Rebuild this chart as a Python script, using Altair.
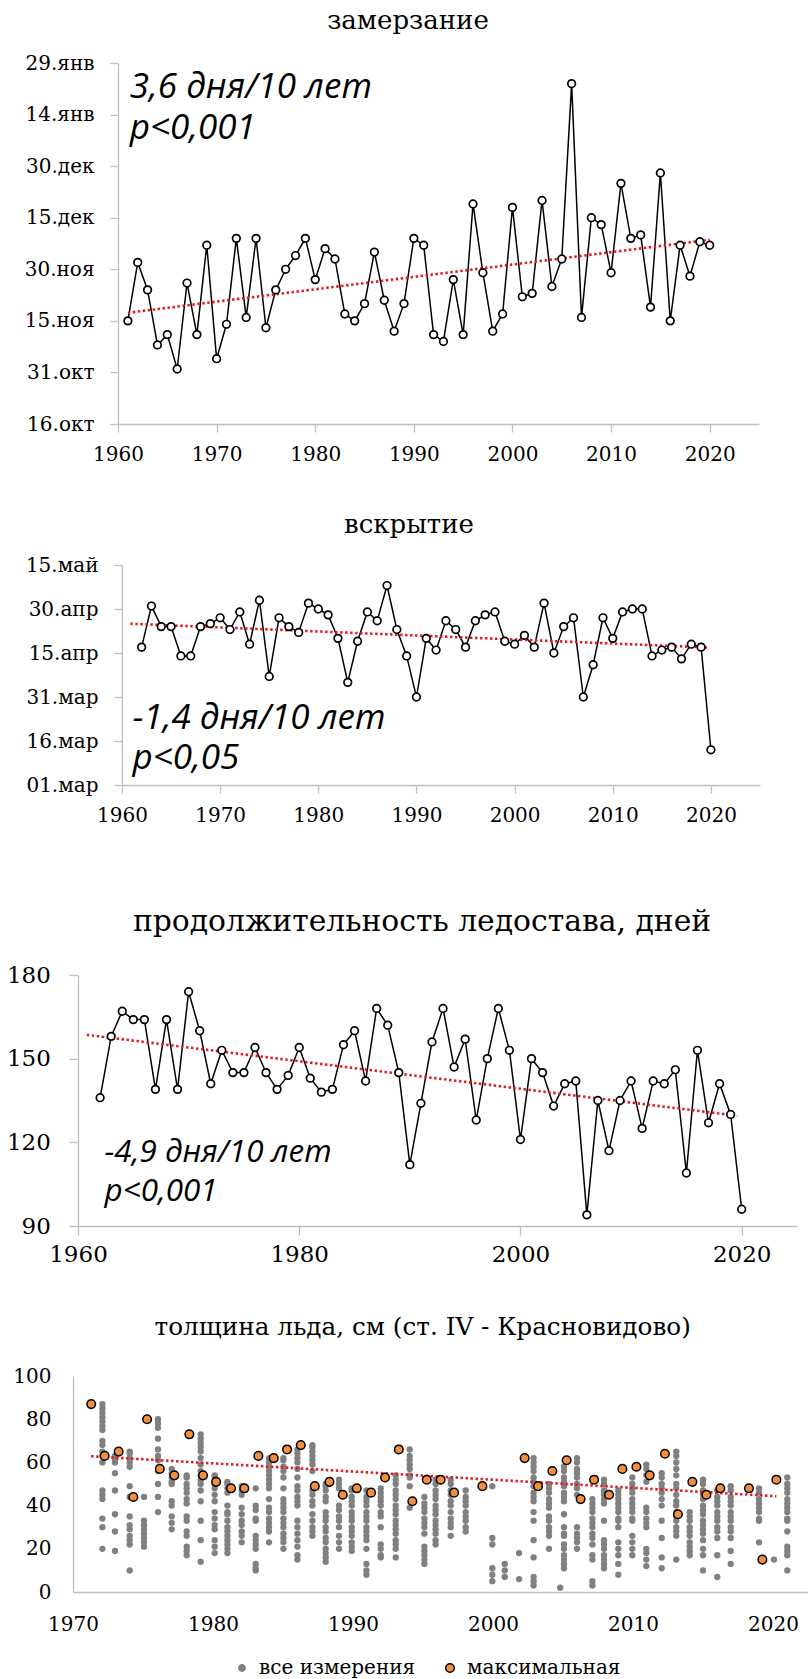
import altair as alt
import pandas as pd
from datetime import date

SERIF = "DejaVu Serif"
NOTE_FONT = "Open Sans"
AXIS_GREY = "#BFBFBF"
TREND_RED = "#E3191C"
DOT_GREY = "#808080"
MAX_ORANGE = "#F28E3F"

# ---------------- замерзание (дата установления ледостава) ----------------
freeze_years = list(range(1961, 2021))
freeze_dates = [
    "15.11", "02.12", "24.11", "08.11", "11.11", "01.11", "26.11", "11.11", "07.12", "04.11",
    "14.11", "09.12", "16.11", "09.12", "13.11", "24.11", "30.11", "04.12", "09.12", "27.11",
    "06.12", "03.12", "17.11", "15.11", "20.11", "05.12", "21.11", "12.11", "20.11", "09.12",
    "07.12", "11.11", "09.11", "27.11", "11.11", "19.12", "29.11", "12.11", "17.11", "18.12",
    "22.11", "23.11", "20.12", "25.11", "03.12", "23.01", "16.11", "15.12", "13.12", "29.11",
    "25.12", "09.12", "10.12", "19.11", "28.12", "15.11", "07.12", "28.11", "08.12", "07.12",
]
freeze_ticks = ["16.окт", "31.окт", "15.ноя", "30.ноя", "15.дек", "30.дек", "14.янв", "29.янв"]
freeze_note = "3,6 дня/10 лет\np<0,001"

# ---------------- вскрытие ----------------
breakup_years = list(range(1962, 2021))
breakup_dates = [
    "17.04", "01.05", "24.04", "24.04", "14.04", "14.04", "24.04", "25.04", "27.04", "23.04",
    "29.04", "18.04", "03.05", "07.04", "27.04", "24.04", "22.04", "02.05", "30.04", "28.04",
    "20.04", "05.04", "19.04", "29.04", "26.04", "08.05", "23.04", "14.04", "31.03", "20.04",
    "16.04", "26.04", "23.04", "17.04", "26.04", "28.04", "29.04", "19.04", "18.04", "21.04",
    "17.04", "02.05", "15.04", "24.04", "27.04", "31.03", "11.04", "27.04", "20.04", "29.04",
    "30.04", "30.04", "14.04", "16.04", "17.04", "13.04", "18.04", "17.04", "13.03",
]
breakup_ticks = ["01.мар", "16.мар", "31.мар", "15.апр", "30.апр", "15.май"]
breakup_note = "-1,4 дня/10 лет\np<0,05"

# ---------------- продолжительность ледостава ----------------
duration_years = list(range(1962, 2021))
duration_days = [
    136, 158, 167, 164, 164, 139, 164, 139, 174, 160,
    141, 153, 145, 145, 154, 145, 139, 144, 154, 143,
    138, 139, 155, 160, 142, 168, 162, 145, 112, 134,
    156, 168, 147, 157, 128, 150, 168, 153, 121, 150,
    145, 133, 141, 142, 94, 135, 117, 135, 142, 125,
    142, 141, 146, 109, 153, 127, 141, 130, 96,
]
duration_note = "-4,9 дня/10 лет\np<0,001"

# ---------------- толщина льда ----------------
max_x = [1971.3, 1972.26, 1973.26, 1974.31, 1975.29, 1976.2, 1977.24, 1978.31, 1979.29, 1980.22,
         1981.29, 1982.24, 1983.24, 1984.34, 1985.29, 1986.27, 1987.27, 1988.32, 1989.27, 1990.27,
         1991.29, 1992.29, 1993.27, 1994.24, 1995.27, 1996.26, 1997.22, 1999.24, 2002.26, 2003.22,
         2004.24, 2005.26, 2006.26, 2007.22, 2008.29, 2009.24, 2010.24, 2011.19, 2012.28, 2013.21,
         2014.24, 2015.24, 2016.24, 2018.28, 2019.24, 2020.24]
max_cm = [87, 63, 65, 44, 80, 57, 54, 73, 54, 51,
          48, 48, 63, 62, 66, 68, 49, 51, 45, 48,
          46, 53, 66, 42, 52, 52, 46, 49, 62, 49,
          56, 61, 43, 52, 45, 57, 58, 54, 64, 36,
          51, 45, 48, 48, 15, 52]

all_x = [1972.1, 1973.0, 1974.05, 1975.07, 1976.07, 1977.05, 1978.12, 1979.12, 1980.12, 1981.03,
         1982.05, 1983.05, 1984.0, 1985.03, 1986.03, 1987.1, 1988.05, 1989.0, 1989.91, 1990.96,
         1991.98, 1993.05, 1994.05, 1995.1, 1995.9, 1996.98, 1998.05, 1999.95, 2000.84, 2001.86,
         2002.9, 2004.0, 2004.8, 2005.07, 2006.0, 2007.1, 2007.93, 2008.95, 2009.95, 2010.95,
         2012.05, 2013.09, 2014.05, 2015.0, 2016.02, 2016.98, 2019.0, 2020.07, 2021.02]
all_cm = [
    [87, 85, 83, 81, 79, 77, 75, 70, 68, 65, 63, 60, 47, 45, 43, 34, 30, 20],
    [63, 61, 60, 55, 47, 36, 28, 19],
    [65, 64, 62, 60, 58, 49, 44, 35, 31, 29, 26, 24, 22, 10],
    [44, 33, 31, 29, 27, 25, 23, 21],
    [80, 78, 76, 71, 66, 63, 61, 56, 50, 44, 37],
    [57, 55, 53, 51, 50, 42, 40, 35, 32, 29],
    [54, 53, 50, 48, 46, 43, 41, 35, 33, 28, 26, 21, 19, 17],
    [73, 71, 69, 67, 65, 62, 59, 56, 54, 52, 50, 47, 42, 33, 24, 14],
    [54, 53, 50, 48, 45, 42, 37, 34, 31, 29, 24, 21, 18],
    [51, 50, 48, 46, 40, 37, 36, 33, 30, 28, 26, 24, 22, 20, 18],
    [49, 47, 45, 39, 36, 33, 31, 28, 26, 23],
    [48, 40, 38, 34, 33, 26, 24, 22, 20, 13, 11, 10],
    [62, 60, 58, 56, 54, 52, 50, 48, 43, 39, 37, 34, 32, 30, 28, 23],
    [62, 61, 58, 56, 53, 48, 43, 41, 39, 37, 34, 32, 30, 27, 25, 23, 20],
    [66, 64, 62, 60, 57, 53, 49, 47, 44, 42, 40, 33, 30, 27, 24, 21, 17, 15],
    [68, 67, 65, 63, 61, 59, 56, 47, 45, 42, 40, 36, 33, 30, 28, 26],
    [50, 49, 47, 44, 42, 37, 35, 33, 30, 28, 25, 23, 20, 18, 16, 14],
    [52, 50, 48, 40, 38, 35, 33, 30, 26, 23, 20],
    [48, 47, 44, 42, 40, 37, 35, 33, 30, 28, 26, 23, 21, 19],
    [47, 44, 42, 40, 37, 35, 33, 30, 28, 26, 24, 20, 13, 10, 8],
    [48, 46, 44, 42, 40, 37, 35, 30, 22, 20, 17, 16],
    [54, 52, 50, 47, 45, 43, 40, 38, 36, 33, 31, 29, 27, 24, 22, 20, 16],
    [66, 63, 61, 59, 57, 54, 53, 49, 39],
    [44, 41, 39, 37, 34, 32, 30, 27, 21, 19, 17, 15, 13],
    [52, 50, 47, 45, 43, 40, 38, 36, 33, 31, 29, 27, 24, 22],
    [52, 50, 47, 45, 42, 40, 37, 34, 32, 30, 26],
    [47, 44, 42, 40, 37, 35, 33, 30, 28],
    [49, 25, 22, 11, 8, 5],
    [13, 10, 7],
    [18, 6],
    [62, 60, 58, 56, 53, 51, 49, 46, 44, 42, 37, 33, 24, 16, 7, 5, 3],
    [50, 48, 46, 43, 41, 39, 35, 33, 30, 28, 26, 20],
    [2],
    [58, 56, 53, 51, 49, 46, 44, 42, 36, 30, 27, 26, 22, 20, 17, 15, 13, 11],
    [62, 60, 57, 55, 53, 50, 48, 45, 30, 27, 25, 23, 20],
    [43, 41, 39, 37, 34, 32, 30, 27, 25, 22, 17, 15, 5, 3],
    [52, 50, 47, 45, 43, 41, 33, 24, 22, 20, 17, 15, 13, 11],
    [47, 45, 43, 41, 39, 37, 34, 33, 30, 23, 20, 17, 13, 8],
    [53, 50, 48, 46, 43, 41, 39, 37, 34, 33, 26, 23, 20, 17],
    [59, 57, 54, 51, 39, 37, 34, 32, 30, 20, 18, 15, 12],
    [55, 53, 50, 48, 46, 43, 40, 33, 25, 16, 11],
    [65, 63, 60, 57, 54, 50, 48, 45, 42, 40, 37, 35, 33, 30, 28, 26, 15],
    [37, 35, 33, 30, 28, 26, 23, 21, 19, 17],
    [52, 50, 47, 45, 43, 40, 38, 36, 33, 31, 29, 27, 24, 20, 17, 10],
    [47, 44, 42, 40, 37, 35, 33, 30, 28, 25, 17, 7],
    [49, 47, 44, 42, 40, 37, 35, 33, 30, 28, 25, 19, 13],
    [48, 46, 43, 41, 39, 37, 34, 33, 23],
    [15],
    [53, 50, 48, 46, 43, 41, 39, 37, 34, 33, 28, 21, 19, 17, 10],
]
kinds = ["все измерения", "максимальная"]


def season_day(ddmm, start_month, start_day):
    """Days elapsed since the start date of the season (crossing New Year if needed)."""
    day, month = (int(p) for p in ddmm.split("."))
    year = 2001 if month >= start_month else 2002
    return (date(year, month, day) - date(2001, start_month, start_day)).days


def tick_expr(labels, step):
    items = ",".join(f"'{t}'" for t in labels)
    return f"[{items}][round(datum.value / {step})]"


def x_axis(values, tick_size, pad, size, extent):
    return alt.Axis(values=values, format="d", title=None, grid=False,
                    ticks=tick_size > 0, tickSize=tick_size, tickColor=AXIS_GREY, tickWidth=1.3,
                    domainColor=AXIS_GREY, domainWidth=1.3,
                    labelFont=SERIF, labelFontSize=size, labelColor="black",
                    labelPadding=pad, labelFlush=False, labelOverlap=False, minExtent=extent)


def y_axis(values, tick_size, pad, size, extent, expr=None):
    kw = dict(values=values, title=None, grid=False,
              ticks=tick_size > 0, tickSize=tick_size, tickColor=AXIS_GREY, tickWidth=1.3,
              domainColor=AXIS_GREY, domainWidth=1.3,
              labelFont=SERIF, labelFontSize=size, labelColor="black",
              labelPadding=pad, labelOverlap=False, minExtent=extent)
    if expr is not None:
        kw["labelExpr"] = expr
    return alt.Axis(**kw)


def spacer(w, h):
    return (alt.Chart(pd.DataFrame({"v": [0]}))
            .mark_point(opacity=0, size=0, strokeWidth=0)
            .properties(width=w, height=h))


def panel_title(text, size, offset, dx):
    return alt.TitleParams(text, font=SERIF, fontSize=size, fontWeight="normal",
                           color="black", anchor="middle", frame="group",
                           baseline="alphabetic", offset=offset, dx=dx)


def series_panel(frame, note, note_at, ydomain, yax, xax, width, height,
                 title, trend_extent, note_size, note_line):
    xs = alt.Scale(domain=[1960, 2025], nice=False, zero=False)
    ys = alt.Scale(domain=ydomain, nice=False, zero=False)

    def X(f):
        return alt.X(f"{f}:Q", scale=xs, axis=xax)

    def Y(f):
        return alt.Y(f"{f}:Q", scale=ys, axis=yax)

    base = alt.Chart(frame)
    line = base.mark_line(color="black", strokeWidth=1.5).encode(x=X("year"), y=Y("value"))
    trend = (base.transform_regression("year", "value", extent=trend_extent)
             .mark_line(color=TREND_RED, strokeWidth=2.6, strokeDash=[2.4, 2.6])
             .encode(x=X("year"), y=Y("value")))
    dots = base.mark_point(shape="circle", filled=True, fill="white", stroke="black",
                           strokeWidth=1.7, size=58, opacity=1).encode(x=X("year"), y=Y("value"))
    note_df = pd.DataFrame({"x": [note_at[0]], "y": [note_at[1]], "text": [note]})
    text = (alt.Chart(note_df)
            .mark_text(align="left", baseline="alphabetic", font=NOTE_FONT, fontStyle="italic",
                       fontSize=note_size, lineHeight=note_line, lineBreak="\n", color="black")
            .encode(x=X("x"), y=Y("y"), text="text:N"))
    return alt.layer(line, trend, dots, text).properties(width=width, height=height, title=title)


# ---------- panel 1: замерзание ----------
freeze_df = pd.DataFrame({"year": freeze_years,
                          "value": [season_day(d, 10, 16) for d in freeze_dates]})
p1 = series_panel(
    freeze_df, freeze_note, (1961.2, 94.7), [0, 105],
    y_axis(list(range(0, 106, 15)), 8, 16, 20, 110, tick_expr(freeze_ticks, 15)),
    x_axis(list(range(1960, 2021, 10)), 8, 12.5, 20, 42),
    641, 361, panel_title("замерзание", 26, -1.6, -30.5), [1961, 2020], 35, 41)

# ---------- panel 2: вскрытие ----------
breakup_df = pd.DataFrame({"year": breakup_years,
                           "value": [season_day(d, 3, 1) for d in breakup_dates]})
p2 = series_panel(
    breakup_df, breakup_note, (1961.07, 19.0), [0, 75],
    y_axis(list(range(0, 76, 15)), 8, 16, 20, 110, tick_expr(breakup_ticks, 15)),
    x_axis(list(range(1960, 2021, 10)), 8, 12.5, 20, 42),
    638, 220, panel_title("вскрытие", 26, -4.3, -32), [1960.85, 2019.6], 35, 40)

# ---------- panel 3: продолжительность ледостава ----------
duration_df = pd.DataFrame({"year": duration_years, "value": duration_days})
p3 = series_panel(
    duration_df, duration_note, (1962.4, 112.8), [90, 180],
    y_axis([90, 120, 150, 180], 9, 18.7, 23, 74),
    x_axis([1960, 1980, 2000, 2020], 9, 8.2, 23, 46),
    719, 251, panel_title("продолжительность ледостава, дней", 29.8, 3.6, -15.5),
    [1960.8, 2019.6], 31.4, 39)

# ---------- panel 4: толщина льда ----------
grey_rows = [(x, v) for x, col in zip(all_x, all_cm) for v in col]
grey_df = pd.DataFrame({"year": [r[0] for r in grey_rows], "cm": [r[1] for r in grey_rows],
                        "kind": kinds[0]})
max_df = pd.DataFrame({"year": max_x, "cm": max_cm, "kind": kinds[1]})

xs4 = alt.Scale(domain=[1970, 2022.5], nice=False, zero=False)
ys4 = alt.Scale(domain=[0, 100], nice=False, zero=False)
xax4 = x_axis(list(range(1970, 2021, 10)), 0, 22.5, 20, 44)
yax4 = y_axis(list(range(0, 101, 20)), 0, 22, 20, 66)
# the shared legend is placed at the chart's top level, so its position is absolute
legend4 = alt.Legend(title=None, orient="none", legendX=232, legendY=1658, direction="horizontal",
                     labelFont=SERIF, labelFontSize=20, labelColor="black", symbolType="circle",
                     symbolStrokeWidth=1.5, symbolOpacity=1, columnPadding=24, labelOffset=7,
                     padding=0)
fill4 = alt.Fill("kind:N", scale=alt.Scale(domain=kinds, range=[DOT_GREY, MAX_ORANGE]), legend=legend4)
stroke4 = alt.Stroke("kind:N", scale=alt.Scale(domain=kinds, range=[DOT_GREY, "black"]), legend=legend4)
size4 = alt.Size("kind:N", scale=alt.Scale(domain=kinds, range=[40, 74]), legend=legend4)

X4 = alt.X("year:Q", scale=xs4, axis=xax4)
Y4 = alt.Y("cm:Q", scale=ys4, axis=yax4)
grey_layer = (alt.Chart(grey_df)
              .mark_point(shape="circle", filled=True, opacity=1, strokeWidth=0)
              .encode(x=X4, y=Y4, fill=fill4, size=size4))
trend4 = (alt.Chart(max_df).transform_regression("year", "cm", extent=[1971.3, 2020.24])
          .mark_line(color=TREND_RED, strokeWidth=2.6, strokeDash=[2.4, 2.6])
          .encode(x=X4, y=Y4))
max_layer = (alt.Chart(max_df)
             .mark_point(shape="circle", filled=True, opacity=1, strokeWidth=1.5)
             .encode(x=X4, y=Y4, fill=fill4, stroke=stroke4, size=size4))
p4 = alt.layer(grey_layer, trend4, max_layer).properties(
    width=735, height=216,
    title=panel_title("толщина льда, см (ст. IV - Красновидово)", 24.7, 6.8, -17.8))


def row(shift, panel):
    return alt.hconcat(spacer(shift, 1), panel, spacing=0)


chart = alt.vconcat(
    spacer(1, 6.5),
    row(8, p1),
    spacer(1, 45.5),
    row(11.5, p2),
    spacer(1, 78.2),
    row(4, p3),
    spacer(1, 41.1),
    row(6.3, p4),
    spacing=0,
).properties(padding=0, background="white").configure_view(stroke=None)

chart.save("out.html", embed_options={"renderer": "svg", "actions": False})
